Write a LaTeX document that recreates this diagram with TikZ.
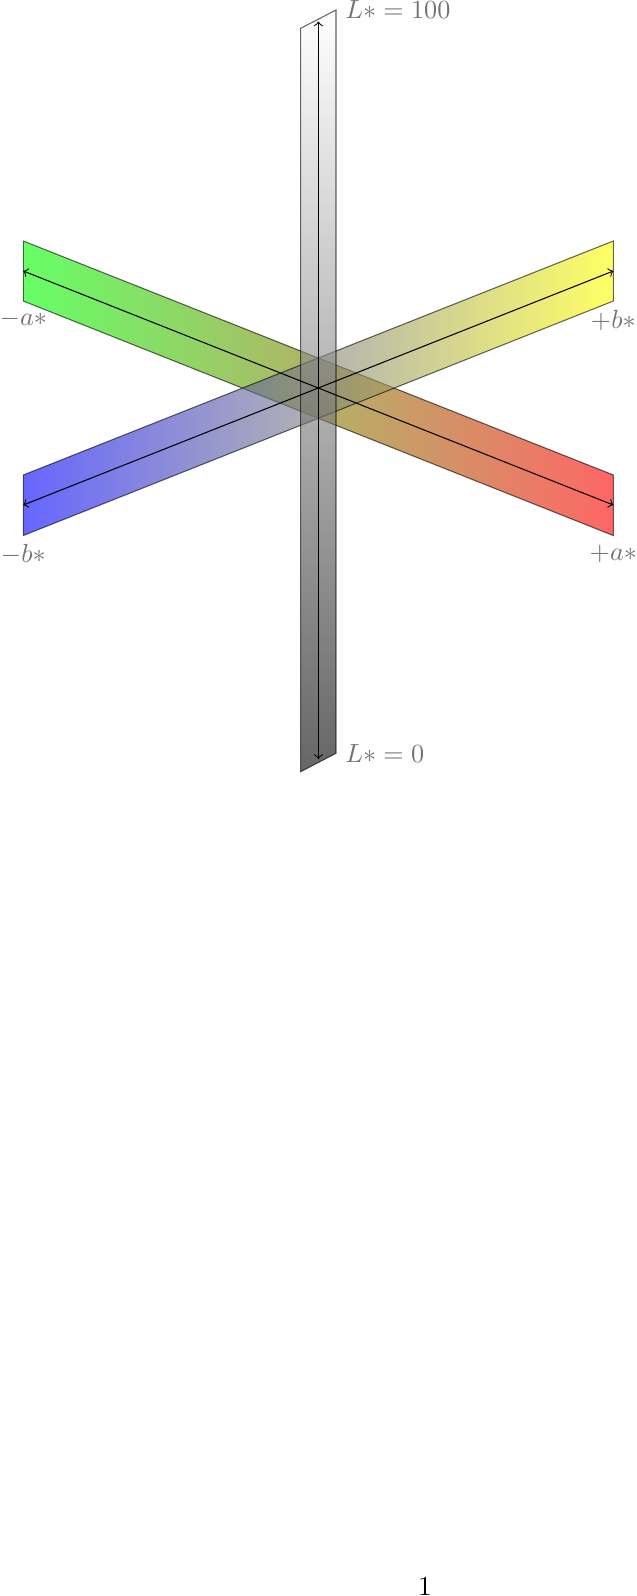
\documentclass[tikz,border=0pt]{standalone}
\begin{document}
\begin{tikzpicture}[x=0.3817pt,y=-0.3817pt,
  band/.style={draw=black, draw opacity=0.6, fill opacity=0.6, line width=0.4pt},
  axisline/.style={<->, black, line width=0.4pt},
  lab/.style={text=black!55, font=\fontsize{10.4}{12.5}\selectfont}]
\useasboundingbox (0,0) rectangle (637,1596);
% green-red band
\coordinate (G1) at (23.3,241);
\coordinate (G2) at (613.3,475);
\coordinate (G3) at (613.3,535.5);
\coordinate (G4) at (23.3,301);
% blue-yellow band
\coordinate (B1) at (23.3,475);
\coordinate (B2) at (613.3,241);
\coordinate (B3) at (613.3,301);
\coordinate (B4) at (23.3,535.5);
% vertical band
\coordinate (V1) at (300.7,28.3);
\coordinate (V2) at (336,10);
\coordinate (V3) at (336,753.3);
\coordinate (V4) at (300.7,771.7);
% axis end points
\coordinate (aminus) at (23.3,271);
\coordinate (aplus) at (613.3,505);
\coordinate (bminus) at (23.3,505);
\coordinate (bplus) at (613.3,271);
\coordinate (Ltop) at (318.4,21.5);
\coordinate (Lbot) at (318.4,759);
\path[band, shade, draw, left color=green, right color=red] (G1) -- (G2) -- (G3) -- (G4) -- cycle;
\path[band, shade, draw, left color=blue, right color=yellow] (B1) -- (B2) -- (B3) -- (B4) -- cycle;
\path[band, shade, draw, top color=white, bottom color=black] (V1) -- (V2) -- (V3) -- (V4) -- cycle;
\draw[axisline] (aminus) -- (aplus);
\draw[axisline] (bminus) -- (bplus);
\draw[axisline] (Ltop) -- (Lbot);
\node[lab, below] (am) at (G4) {$-a*$};
\node[lab, below] (ap) at (G3) {$+a*$};
\node[lab, below] (bm) at (B4) {$-b*$};
\node[lab, below] (bp) at (B3) {$+b*$};
\node[lab, right] (L100) at (V2) {$L*=100$};
\node[lab, right] (L0) at (V3) {$L*=0$};
\node[anchor=base, font=\fontsize{10.4}{12.5}\selectfont] (pagenum) at (425,1595) {1};
\end{tikzpicture}
\end{document}
